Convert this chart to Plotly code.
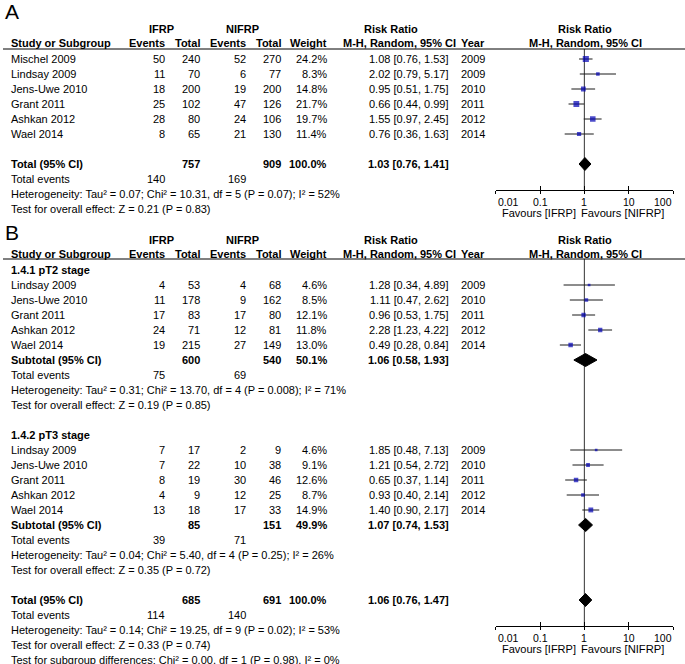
import math
import plotly.graph_objects as go

W, H = 685, 664
FONT = "Liberation Sans, Arial, sans-serif"
FS = 11

# ---------------- data : panel A ----------------
a_study = ["Mischel 2009", "Lindsay 2009", "Jens-Uwe 2010", "Grant 2011", "Ashkan 2012", "Wael 2014"]
a_ifrp_events = [50, 11, 18, 25, 28, 8]
a_ifrp_total = [240, 70, 200, 102, 80, 65]
a_nifrp_events = [52, 6, 19, 47, 24, 21]
a_nifrp_total = [270, 77, 200, 126, 106, 130]
a_weight = [24.2, 8.3, 14.8, 21.7, 19.7, 11.4]
a_rr = [1.08, 2.02, 0.95, 0.66, 1.55, 0.76]
a_lo = [0.76, 0.79, 0.51, 0.44, 0.97, 0.36]
a_hi = [1.53, 5.17, 1.75, 0.99, 2.45, 1.63]
a_year = [2009, 2009, 2010, 2011, 2012, 2014]
a_total_n = [757, 909]
a_total_events = [140, 169]
a_total_rr = [1.03, 0.76, 1.41]
a_het = "Heterogeneity: Tau² = 0.07; Chi² = 10.31, df = 5 (P = 0.07); I² = 52%"
a_test = "Test for overall effect: Z = 0.21 (P = 0.83)"

# ---------------- data : panel B, pT2 ----------------
b1_label = "1.4.1 pT2 stage"
b1_study = ["Lindsay 2009", "Jens-Uwe 2010", "Grant 2011", "Ashkan 2012", "Wael 2014"]
b1_ifrp_events = [4, 11, 17, 24, 19]
b1_ifrp_total = [53, 178, 83, 71, 215]
b1_nifrp_events = [4, 9, 17, 12, 27]
b1_nifrp_total = [68, 162, 80, 81, 149]
b1_weight = [4.6, 8.5, 12.1, 11.8, 13.0]
b1_rr = [1.28, 1.11, 0.96, 2.28, 0.49]
b1_lo = [0.34, 0.47, 0.53, 1.23, 0.28]
b1_hi = [4.89, 2.62, 1.75, 4.22, 0.84]
b1_year = [2009, 2010, 2011, 2012, 2014]
b1_sub_n = [600, 540]
b1_sub_weight = 50.1
b1_sub_events = [75, 69]
b1_sub_rr = [1.06, 0.58, 1.93]
b1_het = "Heterogeneity: Tau² = 0.31; Chi² = 13.70, df = 4 (P = 0.008); I² = 71%"
b1_test = "Test for overall effect: Z = 0.19 (P = 0.85)"

# ---------------- data : panel B, pT3 ----------------
b2_label = "1.4.2 pT3 stage"
b2_study = ["Lindsay 2009", "Jens-Uwe 2010", "Grant 2011", "Ashkan 2012", "Wael 2014"]
b2_ifrp_events = [7, 7, 8, 4, 13]
b2_ifrp_total = [17, 22, 19, 9, 18]
b2_nifrp_events = [2, 10, 30, 12, 17]
b2_nifrp_total = [9, 38, 46, 25, 33]
b2_weight = [4.6, 9.1, 12.6, 8.7, 14.9]
b2_rr = [1.85, 1.21, 0.65, 0.93, 1.40]
b2_lo = [0.48, 0.54, 0.37, 0.40, 0.90]
b2_hi = [7.13, 2.72, 1.14, 2.14, 2.17]
b2_year = [2009, 2010, 2011, 2012, 2014]
b2_sub_n = [85, 151]
b2_sub_weight = 49.9
b2_sub_events = [39, 71]
b2_sub_rr = [1.07, 0.74, 1.53]
b2_het = "Heterogeneity: Tau² = 0.04; Chi² = 5.40, df = 4 (P = 0.25); I² = 26%"
b2_test = "Test for overall effect: Z = 0.35 (P = 0.72)"

# ---------------- data : panel B, overall ----------------
b_total_n = [685, 691]
b_total_events = [114, 140]
b_total_rr = [1.06, 0.76, 1.47]
b_het = "Heterogeneity: Tau² = 0.14; Chi² = 19.25, df = 9 (P = 0.02); I² = 53%"
b_test = "Test for overall effect: Z = 0.33 (P = 0.74)"
b_subgroup = "Test for subgroup differences: Chi² = 0.00, df = 1 (P = 0.98), I² = 0%"

tick_vals = [0.01, 0.1, 1, 10, 100]
tick_text = ["0.01", "0.1", "1", "10", "100"]
fav_left = "Favours [IFRP]"
fav_right = "Favours [NIFRP]"

# ---------------- layout geometry (pixels) ----------------
PITCH = 15.0
X_NAME, X_EV1, X_TOT1, X_EV2, X_TOT2, X_WT = 10, 166, 201, 247, 282, 328
X_RR, X_YR = 450, 486
X_IFRP, X_NIFRP, X_RRHEAD, X_MH = 161, 242, 391, 457
FX0, FX1 = 495.7, 673.0
FOREST_C = (FX0 + FX1) / 2

A = dict(label_y=11.5, h1=29, h2=43, line=49, row0=59, axis=190, tl=201.5, fav=212.5)
B = dict(label_y=233, h1=240, h2=254, line=259, row0=270, axis=626, tl=637.5, fav=648.5)

ann = []
shapes = []
traces = []


def txt(s, x, y, anchor="left", bold=False, size=FS):
    ann.append(dict(text=f"<b>{s}</b>" if bold else s, x=x / W, y=1 - y / H,
                    xref="paper", yref="paper", xanchor=anchor, yanchor="middle",
                    showarrow=False, borderpad=0,
                    font=dict(family=FONT, size=size, color="black")))


def header(g, letter):
    txt(letter, 4, g["label_y"], size=21)
    txt("IFRP", X_IFRP, g["h1"], "center", True)
    txt("NIFRP", X_NIFRP, g["h1"], "center", True)
    txt("Risk Ratio", X_RRHEAD, g["h1"], "center", True)
    txt("Risk Ratio", FOREST_C + 1, g["h1"], "center", True)
    txt("Study or Subgroup", X_NAME, g["h2"], "left", True)
    txt("Events", X_EV1, g["h2"], "right", True)
    txt("Total", X_TOT1, g["h2"], "right", True)
    txt("Events", X_EV2, g["h2"], "right", True)
    txt("Total", X_TOT2, g["h2"], "right", True)
    txt("Weight", X_WT, g["h2"], "right", True)
    txt("M-H, Random, 95% CI", X_MH, g["h2"], "right", True)
    txt("Year", X_YR, g["h2"], "right", True)
    txt("M-H, Random, 95% CI", FOREST_C + 1, g["h2"], "center", True)
    shapes.append(dict(type="line", xref="paper", yref="paper", x0=3 / W, x1=1,
                       y0=1 - g["line"] / H, y1=1 - g["line"] / H,
                       line=dict(color="black", width=1)))


def rowy(g, i):
    return g["row0"] + PITCH * i


def studies(g, start, names, e1, t1, e2, t2, wt, rr, lo, hi, yr, axes):
    ys = []
    for k in range(len(names)):
        y = rowy(g, start + k)
        ys.append(y)
        txt(names[k], X_NAME, y)
        txt(str(e1[k]), X_EV1, y, "right")
        txt(str(t1[k]), X_TOT1, y, "right")
        txt(str(e2[k]), X_EV2, y, "right")
        txt(str(t2[k]), X_TOT2, y, "right")
        txt(f"{wt[k]:.1f}%", X_WT, y, "right")
        txt(f"{rr[k]:.2f} [{lo[k]:.2f}, {hi[k]:.2f}]", X_RR, y, "right")
        txt(str(yr[k]), X_YR, y, "right")
    xs, yl = [], []
    for k in range(len(names)):
        xs += [lo[k], hi[k], None]
        yl += [ys[k], ys[k], None]
    traces.append(go.Scatter(x=xs, y=yl, mode="lines", xaxis=axes[0], yaxis=axes[1],
                             line=dict(color="#1a1a1a", width=1),
                             hoverinfo="skip", showlegend=False))
    traces.append(go.Scatter(x=rr, y=ys, mode="markers", xaxis=axes[0], yaxis=axes[1],
                             marker=dict(symbol="square", color="#0000B4",
                                         size=[max(2.5, 1.25 * math.sqrt(w)) for w in wt],
                                         line=dict(width=0)),
                             hoverinfo="skip", showlegend=False))


def pooled(g, i, label, n, weight, events, rrv, axes):
    y = rowy(g, i)
    txt(label, X_NAME, y, "left", True)
    txt(str(n[0]), X_TOT1, y, "right", True)
    txt(str(n[1]), X_TOT2, y, "right", True)
    txt(f"{weight:.1f}%", X_WT, y, "right", True)
    txt(f"{rrv[0]:.2f} [{rrv[1]:.2f}, {rrv[2]:.2f}]", X_RR, y, "right", True)
    y2 = rowy(g, i + 1)
    txt("Total events", X_NAME, y2)
    txt(str(events[0]), X_EV1, y2, "right")
    txt(str(events[1]), X_EV2, y2, "right")
    hh = 6.5
    traces.append(go.Scatter(x=[rrv[1], rrv[0], rrv[2], rrv[0], rrv[1]],
                             y=[y, y - hh, y, y + hh, y], mode="lines", fill="toself",
                             fillcolor="black", line=dict(color="black", width=1),
                             xaxis=axes[0], yaxis=axes[1], hoverinfo="skip", showlegend=False))


# ---------------- panel A ----------------
header(A, "A")
studies(A, 0, a_study, a_ifrp_events, a_ifrp_total, a_nifrp_events, a_nifrp_total,
        a_weight, a_rr, a_lo, a_hi, a_year, ("x", "y"))
pooled(A, 7, "Total (95% CI)", a_total_n, 100.0, a_total_events, a_total_rr, ("x", "y"))
txt(a_het, X_NAME, rowy(A, 9))
txt(a_test, X_NAME, rowy(A, 10))

# ---------------- panel B ----------------
header(B, "B")
txt(b1_label, X_NAME, rowy(B, 0), "left", True)
studies(B, 1, b1_study, b1_ifrp_events, b1_ifrp_total, b1_nifrp_events, b1_nifrp_total,
        b1_weight, b1_rr, b1_lo, b1_hi, b1_year, ("x2", "y2"))
pooled(B, 6, "Subtotal (95% CI)", b1_sub_n, b1_sub_weight, b1_sub_events, b1_sub_rr, ("x2", "y2"))
txt(b1_het, X_NAME, rowy(B, 8))
txt(b1_test, X_NAME, rowy(B, 9))

txt(b2_label, X_NAME, rowy(B, 11), "left", True)
studies(B, 12, b2_study, b2_ifrp_events, b2_ifrp_total, b2_nifrp_events, b2_nifrp_total,
        b2_weight, b2_rr, b2_lo, b2_hi, b2_year, ("x2", "y2"))
pooled(B, 17, "Subtotal (95% CI)", b2_sub_n, b2_sub_weight, b2_sub_events, b2_sub_rr, ("x2", "y2"))
txt(b2_het, X_NAME, rowy(B, 19))
txt(b2_test, X_NAME, rowy(B, 20))

pooled(B, 22, "Total (95% CI)", b_total_n, 100.0, b_total_events, b_total_rr, ("x2", "y2"))
txt(b_het, X_NAME, rowy(B, 24))
txt(b_test, X_NAME, rowy(B, 25))
txt(b_subgroup, X_NAME, rowy(B, 26))

# line of no effect, tick labels and favours labels (positioned through the x axes)
for g, xa, ya in ((A, "x", "y"), (B, "x2", "y2")):
    traces.insert(0, go.Scatter(x=[1, 1], y=[g["line"], g["axis"]], mode="lines",
                                xaxis=xa, yaxis=ya, line=dict(color="#333333", width=1),
                                hoverinfo="skip", showlegend=False))
    for k, (v, s) in enumerate(zip(tick_vals, tick_text)):
        anchor = "left" if k == 0 else ("right" if k == len(tick_vals) - 1 else "center")
        ann.append(dict(text=s, x=math.log10(v), y=1 - g["tl"] / H, xref=xa, yref="paper",
                        xanchor=anchor, yanchor="middle", showarrow=False, borderpad=0,
                        xshift=1 if k == 0 else 0,
                        font=dict(family=FONT, size=10.5, color="black")))
    ann.append(dict(text=fav_left, x=-0.17, y=1 - g["fav"] / H, xref=xa, yref="paper",
                    xanchor="right", yanchor="middle", showarrow=False, borderpad=0,
                    font=dict(family=FONT, size=FS, color="black")))
    ann.append(dict(text=fav_right, x=-0.09, y=1 - g["fav"] / H, xref=xa, yref="paper",
                    xanchor="left", yanchor="middle", showarrow=False, borderpad=0,
                    font=dict(family=FONT, size=FS + 0.2, color="black")))

# invisible traces so that the overlay tick axes are drawn
traces.append(go.Scatter(x=[1], y=[A["axis"]], xaxis="x3", yaxis="y", mode="markers",
                         marker=dict(opacity=0), hoverinfo="skip", showlegend=False))
traces.append(go.Scatter(x=[1], y=[B["axis"]], xaxis="x4", yaxis="y2", mode="markers",
                         marker=dict(opacity=0), hoverinfo="skip", showlegend=False))

fig = go.Figure(traces)

dom = [FX0 / W, FX1 / W]
base_x = dict(type="log", range=[-2, 2], domain=dom, showgrid=False, zeroline=False,
              tickvals=tick_vals, ticktext=tick_text, fixedrange=True, showticklabels=False)


def xax(anchor, main):
    d = dict(base_x)
    d["anchor"] = anchor
    if main:
        d.update(ticks="outside", ticklen=3, tickcolor="black", showline=True,
                 linecolor="black", linewidth=1)
    else:
        d.update(ticks="inside", ticklen=4, tickcolor="black", showline=False)
    return d


def yax(g):
    return dict(domain=[1 - g["axis"] / H, 1 - g["line"] / H], range=[g["axis"], g["line"]],
                visible=False, fixedrange=True)


fig.update_layout(
    width=W, height=H, margin=dict(l=0, r=0, t=0, b=0),
    paper_bgcolor="white", plot_bgcolor="rgba(0,0,0,0)",
    showlegend=False,
    xaxis=xax("y", True),
    xaxis2=xax("y2", True),
    xaxis3={**xax("y", False), "overlaying": "x"},
    xaxis4={**xax("y2", False), "overlaying": "x2"},
    yaxis=yax(A),
    yaxis2=yax(B),
    annotations=ann,
    shapes=shapes,
    font=dict(family=FONT, size=FS, color="black"),
)

fig.write_html("out.html", config={"displayModeBar": False},
               post_script="document.body.style.margin='0px';")
